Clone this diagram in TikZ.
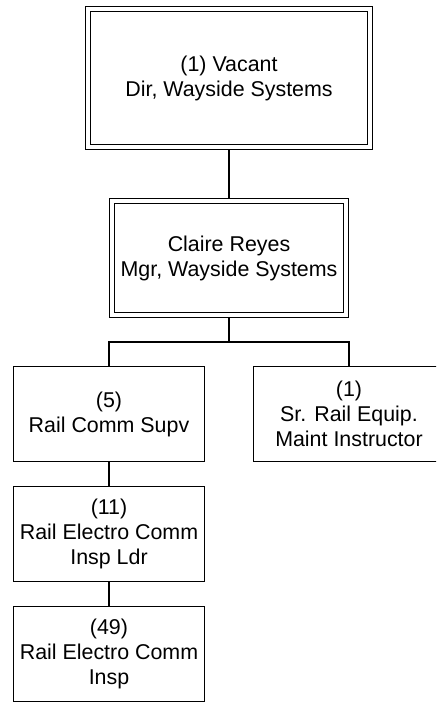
\documentclass[tikz,border=0pt]{standalone}
\usepackage{fontspec}
\setmainfont{Liberation Sans}
\tikzset{
	post/.style={draw, line width=0.65pt, align=center, inner sep=0pt, font=\fontsize{10.7}{12.5}\selectfont, minimum width=95.5pt, minimum height=47.5pt},
	headpost/.style={post, double, double distance=1.85pt, outer sep=1.6pt},
	link/.style={line width=0.65pt}
}

\begin{document}
\begin{tikzpicture}[x=0.5pt, y=-0.5pt]
	\useasboundingbox (0,0) rectangle (436,702);
	\clip (0,0) rectangle (436,702);
	\node[headpost, minimum width=141pt, minimum height=69pt] (dir) at (229,78) {(1) Vacant\\Dir, Wayside Systems};
	\node[headpost, minimum width=117pt, minimum height=57pt] (mgr) at (229,258) {Claire Reyes\\Mgr, Wayside Systems};
	\node[post] (supv) at (109,414) {(5)\\Rail Comm Supv};
	\node[post] (instr) at (349,414) {(1)\\Sr. Rail Equip.\\Maint Instructor};
	\node[post] (insp ldr) at (109,534) {(11)\\Rail Electro Comm\\Insp Ldr};
	\node[post] (insp) at (109,654) {(49)\\Rail Electro Comm\\Insp};
	\coordinate (bus) at (229,342);
	\draw[link] (dir) -- (mgr);
	\draw[link] (mgr) -- (bus) -| (supv); \draw[link] (bus) -| (instr);
	\draw[link] (supv) -- (insp ldr); \draw[link] (insp ldr) -- (insp);
\end{tikzpicture}
\end{document}
